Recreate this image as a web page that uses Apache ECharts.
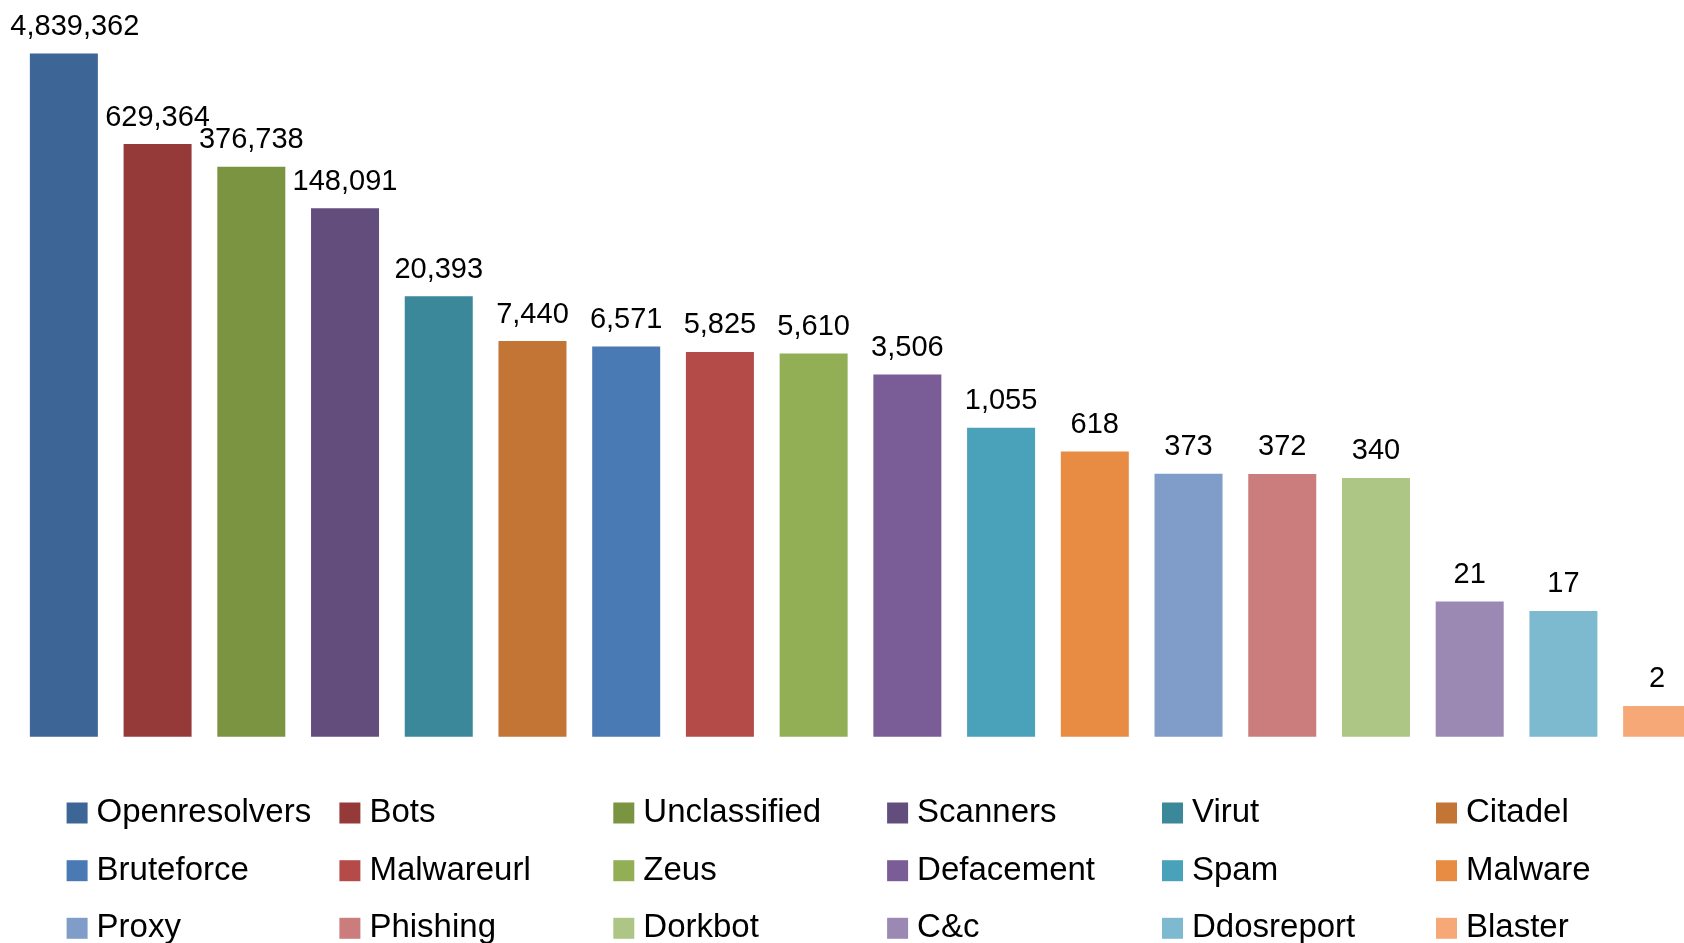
<!DOCTYPE html>
<html>
<head>
<meta charset="utf-8">
<script src="https://cdn.jsdelivr.net/npm/echarts@6/dist/echarts.min.js"></script>
<style>
html,body{margin:0;padding:0;background:#fff;overflow:hidden;width:1684px;height:943px;}
#chart{width:1720px;height:943px;}
</style>
</head>
<body>
<div id="chart"></div>
<script>
const categories = ["Openresolvers","Bots","Unclassified","Scanners","Virut","Citadel","Bruteforce","Malwareurl","Zeus","Defacement","Spam","Malware","Proxy","Phishing","Dorkbot","C&c","Ddosreport","Blaster"];
const values = [4839362,629364,376738,148091,20393,7440,6571,5825,5610,3506,1055,618,373,372,340,21,17,2];
const colors = ["#3D6596","#963A39","#7A9442","#634D7D","#3A889A","#C27534","#4A7AB3","#B54B49","#92AF55","#7A5D97","#49A2B9","#E78C42","#7F9DC8","#CB7C7C","#AEC685","#9B89B3","#7DB9CF","#F6A977"];

const FONT = "Liberation Sans";
const legendCols = [66.6, 339.4, 613.3, 887.1, 1162, 1436];
const legendRows = [813, 870.7, 928.3];

const series = categories.map((name, i) => ({
  name: name,
  type: 'bar',
  barWidth: 68,
  barGap: '-100%',
  itemStyle: { color: colors[i] },
  label: {
    show: true,
    position: 'top',
    distance: 12,
    offset: i === 0 ? [11, 0] : [0, 0],
    color: '#000',
    fontFamily: FONT,
    fontSize: 29,
    formatter: p => Number(p.value).toLocaleString('en-US')
  },
  data: categories.map((c, j) => j === i ? values[i] : '-')
}));

const legends = categories.map((name, i) => ({
  data: [name],
  left: legendCols[i % 6],
  top: legendRows[Math.floor(i / 6)] - 17,
  padding: 0,
  itemWidth: 21,
  itemHeight: 21,
  icon: 'rect',
  selectedMode: false,
  textStyle: { fontFamily: FONT, fontSize: 33, color: '#000', lineHeight: 34, padding: [0, 0, 0, 4] }
}));

const chart = echarts.init(document.getElementById('chart'));
chart.setOption({
  animation: false,
  color: colors,
  grid: { left: 17, top: 21.3, width: 1687, height: 715.4, containLabel: false },
  xAxis: { type: 'category', data: categories, show: false },
  yAxis: { type: 'log', min: 1, max: 10000000, logBase: 10, show: false, splitLine: { show: false } },
  legend: legends,
  series: series
});
</script>
</body>
</html>
